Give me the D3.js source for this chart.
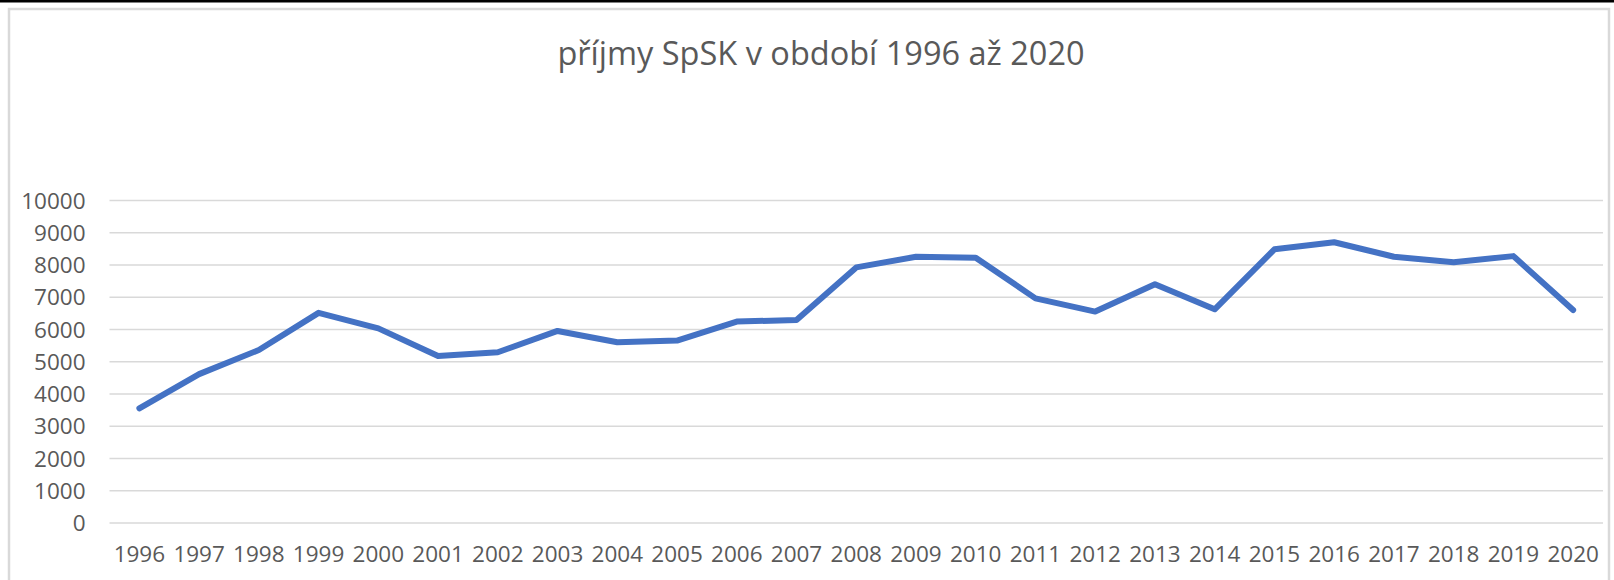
<!DOCTYPE html>
<meta charset="utf-8">
<style>
body { margin: 0; background: #fff; }
.tick text { font-family: "Open Sans", sans-serif; fill: #595959; }
.title { font-family: "Open Sans", sans-serif; fill: #595959; }
</style>
<body>
<div id="chart"></div>
<script src="https://cdnjs.cloudflare.com/ajax/libs/d3/7.8.5/d3.min.js"></script>
<script>

var WIDTH = 1614;
var HEIGHT = 580;

// data
var years = ['1996', '1997', '1998', '1999', '2000', '2001', '2002', '2003', '2004',
             '2005', '2006', '2007', '2008', '2009', '2010', '2011', '2012', '2013',
             '2014', '2015', '2016', '2017', '2018', '2019', '2020'];
var prijmy = [3540, 4600, 5350, 6500, 6020, 5160, 5280, 5940, 5590,
              5640, 6230, 6280, 7910, 8240, 8210, 6950, 6540, 7390,
              6610, 8470, 8690, 8240, 8070, 8260, 6590];
var yTicks = [0, 1000, 2000, 3000, 4000, 5000, 6000, 7000, 8000, 9000, 10000];
var titleText = 'příjmy SpSK v období 1996 až 2020';

var PLOT_LEFT = 109.5;
var PLOT_RIGHT = 1603;
var PLOT_TOP = 200;
var PLOT_BOTTOM = 522.5;
var LINE_COLOR = '#4472C4';
var GRID_COLOR = '#d9d9d9';

var svg = d3.select('#chart').append('svg')
    .attr('width', WIDTH)
    .attr('height', HEIGHT);

// black strip at top of the screenshot + chart frame
svg.append('rect')
    .attr('x', 0).attr('y', 0)
    .attr('width', WIDTH).attr('height', 2.5)
    .attr('fill', '#000');
svg.append('rect')
    .attr('x', 9).attr('y', 9)
    .attr('width', 1600).attr('height', 620)
    .attr('fill', 'none')
    .attr('stroke', GRID_COLOR)
    .attr('stroke-width', 2.5);

var x = d3.scaleBand()
    .domain(years)
    .range([PLOT_LEFT, PLOT_RIGHT]);
var y = d3.scaleLinear()
    .domain([0, 10000])
    .range([PLOT_BOTTOM, PLOT_TOP]);

// gridlines + y labels
var yAxis = svg.append('g')
    .attr('transform', 'translate(' + PLOT_LEFT + ',0)')
    .call(d3.axisLeft(y)
      .tickValues(yTicks)
      .tickFormat(d3.format('d'))
      .tickSize(-(PLOT_RIGHT - PLOT_LEFT))
      .tickPadding(24));
yAxis.select('.domain').remove();
yAxis.selectAll('.tick line')
    .attr('stroke', GRID_COLOR)
    .attr('stroke-width', 1.6);
yAxis.selectAll('.tick text')
    .attr('font-size', 22.5)
    .attr('dy', '0.36em');

// x labels
var xAxis = svg.append('g')
    .attr('transform', 'translate(0,' + PLOT_BOTTOM + ')')
    .call(d3.axisBottom(x).tickSize(0).tickPadding(0));
xAxis.select('.domain').remove();
xAxis.selectAll('.tick text')
    .attr('font-size', 22.5)
    .attr('dy', null)
    .attr('y', 39.5);

// line
var line = d3.line()
    .x(function(d, i) { return x(years[i]) + x.bandwidth() / 2; })
    .y(function(d) { return y(d); });
svg.append('path')
    .datum(prijmy)
    .attr('d', line)
    .attr('fill', 'none')
    .attr('stroke', LINE_COLOR)
    .attr('stroke-width', 6)
    .attr('stroke-linejoin', 'round')
    .attr('stroke-linecap', 'round');

// title
svg.append('text')
    .attr('class', 'title')
    .attr('x', 821)
    .attr('y', 65)
    .attr('text-anchor', 'middle')
    .attr('font-size', 32.5)
    .text(titleText);

</script>
